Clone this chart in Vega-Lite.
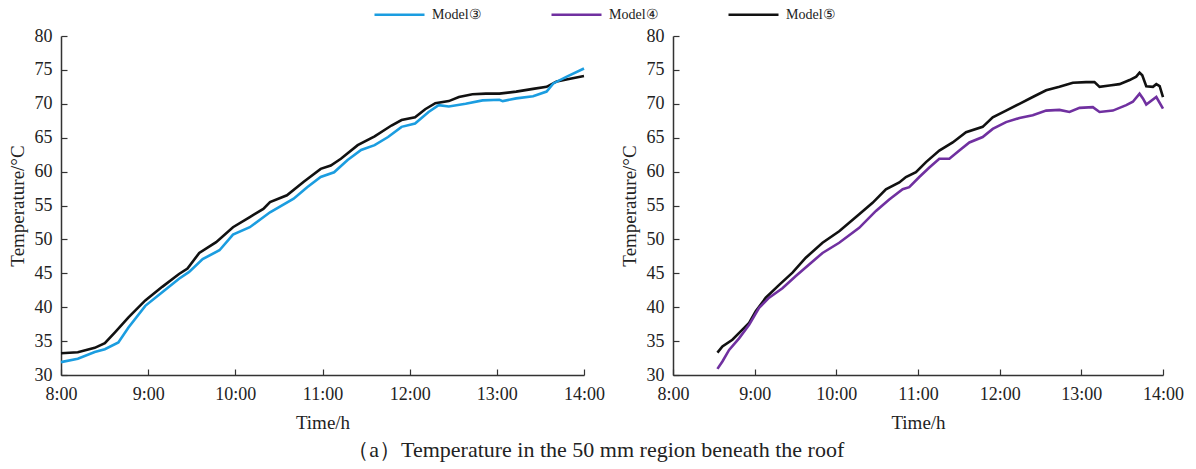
{
  "$schema": "https://vega.github.io/schema/vega-lite/v6.json",
  "background": "white",
  "padding": {"left": 8, "top": -12, "right": 5, "bottom": 5},
  "config": {
    "font": "Liberation Serif",
    "view": {"stroke": null},
    "axis": {"grid": false, "domainColor": "#333", "domainWidth": 1.5, "tickColor": "#333", "tickWidth": 1.2, "tickSize": -6, "labelFontSize": 18, "labelColor": "#222", "titleFontSize": 19, "titleFontWeight": "normal", "titleColor": "#222", "labelFont": "Liberation Serif", "titleFont": "Liberation Serif", "labelFlush": false},
    "axisX": {"labelPadding": 16, "titlePadding": 10},
    "axisY": {"labelPadding": 15, "titlePadding": 7},
    "legend": {"labelFont": "Liberation Serif", "labelFontSize": 14, "labelColor": "#222"}
  },
  "title": {"text": "（a）Temperature in the 50 mm region beneath the roof", "orient": "bottom", "anchor": "middle", "fontSize": 22, "fontWeight": "normal", "font": "Liberation Serif", "color": "#222", "offset": 8},
  "data": {"values": [
    {"panel":"L","model":"Model⑤","t":8.0,"T":33.2},
    {"panel":"L","model":"Model⑤","t":8.193,"T":33.35},
    {"panel":"L","model":"Model⑤","t":8.387,"T":34.0},
    {"panel":"L","model":"Model⑤","t":8.503,"T":34.7},
    {"panel":"L","model":"Model⑤","t":8.619,"T":36.3},
    {"panel":"L","model":"Model⑤","t":8.774,"T":38.5},
    {"panel":"L","model":"Model⑤","t":8.967,"T":41.0},
    {"panel":"L","model":"Model⑤","t":9.161,"T":43.0},
    {"panel":"L","model":"Model⑤","t":9.354,"T":44.9},
    {"panel":"L","model":"Model⑤","t":9.451,"T":45.7},
    {"panel":"L","model":"Model⑤","t":9.586,"T":48.0},
    {"panel":"L","model":"Model⑤","t":9.780,"T":49.6},
    {"panel":"L","model":"Model⑤","t":9.973,"T":51.8},
    {"panel":"L","model":"Model⑤","t":10.166,"T":53.3},
    {"panel":"L","model":"Model⑤","t":10.321,"T":54.5},
    {"panel":"L","model":"Model⑤","t":10.398,"T":55.5},
    {"panel":"L","model":"Model⑤","t":10.592,"T":56.5},
    {"panel":"L","model":"Model⑤","t":10.785,"T":58.5},
    {"panel":"L","model":"Model⑤","t":10.979,"T":60.4},
    {"panel":"L","model":"Model⑤","t":11.095,"T":60.9},
    {"panel":"L","model":"Model⑤","t":11.211,"T":61.9},
    {"panel":"L","model":"Model⑤","t":11.404,"T":63.9},
    {"panel":"L","model":"Model⑤","t":11.598,"T":65.2},
    {"panel":"L","model":"Model⑤","t":11.791,"T":66.8},
    {"panel":"L","model":"Model⑤","t":11.907,"T":67.6},
    {"panel":"L","model":"Model⑤","t":12.062,"T":68.0},
    {"panel":"L","model":"Model⑤","t":12.178,"T":69.2},
    {"panel":"L","model":"Model⑤","t":12.294,"T":70.1},
    {"panel":"L","model":"Model⑤","t":12.449,"T":70.4},
    {"panel":"L","model":"Model⑤","t":12.565,"T":71.0},
    {"panel":"L","model":"Model⑤","t":12.720,"T":71.4},
    {"panel":"L","model":"Model⑤","t":12.874,"T":71.5},
    {"panel":"L","model":"Model⑤","t":13.029,"T":71.5},
    {"panel":"L","model":"Model⑤","t":13.222,"T":71.8},
    {"panel":"L","model":"Model⑤","t":13.416,"T":72.2},
    {"panel":"L","model":"Model⑤","t":13.571,"T":72.5},
    {"panel":"L","model":"Model⑤","t":13.687,"T":73.3},
    {"panel":"L","model":"Model⑤","t":13.841,"T":73.7},
    {"panel":"L","model":"Model⑤","t":14.0,"T":74.1},
    {"panel":"L","model":"Model③","t":8.0,"T":31.9},
    {"panel":"L","model":"Model③","t":8.193,"T":32.4},
    {"panel":"L","model":"Model③","t":8.387,"T":33.4},
    {"panel":"L","model":"Model③","t":8.503,"T":33.8},
    {"panel":"L","model":"Model③","t":8.658,"T":34.8},
    {"panel":"L","model":"Model③","t":8.774,"T":37.0},
    {"panel":"L","model":"Model③","t":8.967,"T":40.2},
    {"panel":"L","model":"Model③","t":9.161,"T":42.2},
    {"panel":"L","model":"Model③","t":9.354,"T":44.2},
    {"panel":"L","model":"Model③","t":9.470,"T":45.2},
    {"panel":"L","model":"Model③","t":9.625,"T":47.1},
    {"panel":"L","model":"Model③","t":9.818,"T":48.4},
    {"panel":"L","model":"Model③","t":9.973,"T":50.7},
    {"panel":"L","model":"Model③","t":10.166,"T":51.8},
    {"panel":"L","model":"Model③","t":10.398,"T":54.0},
    {"panel":"L","model":"Model③","t":10.669,"T":56.0},
    {"panel":"L","model":"Model③","t":10.824,"T":57.7},
    {"panel":"L","model":"Model③","t":10.979,"T":59.2},
    {"panel":"L","model":"Model③","t":11.133,"T":59.9},
    {"panel":"L","model":"Model③","t":11.288,"T":61.7},
    {"panel":"L","model":"Model③","t":11.443,"T":63.2},
    {"panel":"L","model":"Model③","t":11.598,"T":63.9},
    {"panel":"L","model":"Model③","t":11.752,"T":65.1},
    {"panel":"L","model":"Model③","t":11.907,"T":66.6},
    {"panel":"L","model":"Model③","t":12.062,"T":67.1},
    {"panel":"L","model":"Model③","t":12.217,"T":68.8},
    {"panel":"L","model":"Model③","t":12.333,"T":69.8},
    {"panel":"L","model":"Model③","t":12.449,"T":69.6},
    {"panel":"L","model":"Model③","t":12.642,"T":70.0},
    {"panel":"L","model":"Model③","t":12.836,"T":70.5},
    {"panel":"L","model":"Model③","t":13.029,"T":70.6},
    {"panel":"L","model":"Model③","t":13.068,"T":70.4},
    {"panel":"L","model":"Model③","t":13.222,"T":70.8},
    {"panel":"L","model":"Model③","t":13.416,"T":71.1},
    {"panel":"L","model":"Model③","t":13.571,"T":71.8},
    {"panel":"L","model":"Model③","t":13.648,"T":73.0},
    {"panel":"L","model":"Model③","t":13.803,"T":74.0},
    {"panel":"L","model":"Model③","t":14.0,"T":75.2},
    {"panel":"R","model":"Model⑤","t":8.544,"T":33.3},
    {"panel":"R","model":"Model⑤","t":8.605,"T":34.2},
    {"panel":"R","model":"Model⑤","t":8.727,"T":35.2},
    {"panel":"R","model":"Model⑤","t":8.850,"T":36.7},
    {"panel":"R","model":"Model⑤","t":8.932,"T":37.7},
    {"panel":"R","model":"Model⑤","t":9.013,"T":39.4},
    {"panel":"R","model":"Model⑤","t":9.136,"T":41.4},
    {"panel":"R","model":"Model⑤","t":9.300,"T":43.3},
    {"panel":"R","model":"Model⑤","t":9.463,"T":45.1},
    {"panel":"R","model":"Model⑤","t":9.626,"T":47.3},
    {"panel":"R","model":"Model⑤","t":9.831,"T":49.5},
    {"panel":"R","model":"Model⑤","t":10.035,"T":51.2},
    {"panel":"R","model":"Model⑤","t":10.280,"T":53.7},
    {"panel":"R","model":"Model⑤","t":10.444,"T":55.4},
    {"panel":"R","model":"Model⑤","t":10.607,"T":57.4},
    {"panel":"R","model":"Model⑤","t":10.771,"T":58.4},
    {"panel":"R","model":"Model⑤","t":10.852,"T":59.2},
    {"panel":"R","model":"Model⑤","t":10.975,"T":59.9},
    {"panel":"R","model":"Model⑤","t":11.098,"T":61.4},
    {"panel":"R","model":"Model⑤","t":11.261,"T":63.1},
    {"panel":"R","model":"Model⑤","t":11.425,"T":64.3},
    {"panel":"R","model":"Model⑤","t":11.588,"T":65.8},
    {"panel":"R","model":"Model⑤","t":11.792,"T":66.6},
    {"panel":"R","model":"Model⑤","t":11.915,"T":68.0},
    {"panel":"R","model":"Model⑤","t":12.078,"T":69.0},
    {"panel":"R","model":"Model⑤","t":12.242,"T":70.0},
    {"panel":"R","model":"Model⑤","t":12.405,"T":71.0},
    {"panel":"R","model":"Model⑤","t":12.569,"T":72.0},
    {"panel":"R","model":"Model⑤","t":12.732,"T":72.5},
    {"panel":"R","model":"Model⑤","t":12.896,"T":73.1},
    {"panel":"R","model":"Model⑤","t":13.059,"T":73.2},
    {"panel":"R","model":"Model⑤","t":13.161,"T":73.2},
    {"panel":"R","model":"Model⑤","t":13.223,"T":72.5},
    {"panel":"R","model":"Model⑤","t":13.345,"T":72.7},
    {"panel":"R","model":"Model⑤","t":13.468,"T":72.9},
    {"panel":"R","model":"Model⑤","t":13.591,"T":73.5},
    {"panel":"R","model":"Model⑤","t":13.672,"T":74.0},
    {"panel":"R","model":"Model⑤","t":13.713,"T":74.6},
    {"panel":"R","model":"Model⑤","t":13.746,"T":74.2},
    {"panel":"R","model":"Model⑤","t":13.795,"T":72.6},
    {"panel":"R","model":"Model⑤","t":13.877,"T":72.5},
    {"panel":"R","model":"Model⑤","t":13.918,"T":72.9},
    {"panel":"R","model":"Model⑤","t":13.959,"T":72.6},
    {"panel":"R","model":"Model⑤","t":14.0,"T":71.0},
    {"panel":"R","model":"Model④","t":8.544,"T":30.9},
    {"panel":"R","model":"Model④","t":8.605,"T":32.0},
    {"panel":"R","model":"Model④","t":8.687,"T":33.7},
    {"panel":"R","model":"Model④","t":8.809,"T":35.4},
    {"panel":"R","model":"Model④","t":8.932,"T":37.4},
    {"panel":"R","model":"Model④","t":9.054,"T":39.9},
    {"panel":"R","model":"Model④","t":9.177,"T":41.4},
    {"panel":"R","model":"Model④","t":9.340,"T":42.8},
    {"panel":"R","model":"Model④","t":9.504,"T":44.6},
    {"panel":"R","model":"Model④","t":9.667,"T":46.3},
    {"panel":"R","model":"Model④","t":9.831,"T":48.0},
    {"panel":"R","model":"Model④","t":10.035,"T":49.5},
    {"panel":"R","model":"Model④","t":10.280,"T":51.7},
    {"panel":"R","model":"Model④","t":10.485,"T":54.2},
    {"panel":"R","model":"Model④","t":10.648,"T":55.9},
    {"panel":"R","model":"Model④","t":10.812,"T":57.4},
    {"panel":"R","model":"Model④","t":10.893,"T":57.7},
    {"panel":"R","model":"Model④","t":11.016,"T":59.2},
    {"panel":"R","model":"Model④","t":11.139,"T":60.6},
    {"panel":"R","model":"Model④","t":11.261,"T":61.9},
    {"panel":"R","model":"Model④","t":11.384,"T":61.9},
    {"panel":"R","model":"Model④","t":11.506,"T":63.1},
    {"panel":"R","model":"Model④","t":11.629,"T":64.3},
    {"panel":"R","model":"Model④","t":11.792,"T":65.1},
    {"panel":"R","model":"Model④","t":11.915,"T":66.3},
    {"panel":"R","model":"Model④","t":12.078,"T":67.3},
    {"panel":"R","model":"Model④","t":12.242,"T":67.9},
    {"panel":"R","model":"Model④","t":12.405,"T":68.3},
    {"panel":"R","model":"Model④","t":12.569,"T":69.0},
    {"panel":"R","model":"Model④","t":12.732,"T":69.1},
    {"panel":"R","model":"Model④","t":12.855,"T":68.8},
    {"panel":"R","model":"Model④","t":12.978,"T":69.4},
    {"panel":"R","model":"Model④","t":13.141,"T":69.5},
    {"panel":"R","model":"Model④","t":13.223,"T":68.8},
    {"panel":"R","model":"Model④","t":13.386,"T":69.0},
    {"panel":"R","model":"Model④","t":13.550,"T":69.8},
    {"panel":"R","model":"Model④","t":13.631,"T":70.3},
    {"panel":"R","model":"Model④","t":13.713,"T":71.5},
    {"panel":"R","model":"Model④","t":13.754,"T":70.8},
    {"panel":"R","model":"Model④","t":13.795,"T":69.9},
    {"panel":"R","model":"Model④","t":13.918,"T":71.0},
    {"panel":"R","model":"Model④","t":14.0,"T":69.3}
  ]},
  "resolve": {"scale": {"color": "shared"}, "legend": {"color": "shared"}},
  "spacing": 15,
  "hconcat": [
    {
      "width": 523, "height": 339,
      "transform": [{"filter": "datum.panel === 'L'"}],
      "mark": {"type": "line", "strokeWidth": 2.6},
      "encoding": {
        "x": {"field": "t", "type": "quantitative", "scale": {"domain": [8, 14], "nice": false, "zero": false}, "axis": {"values": [8,9,10,11,12,13,14], "labelExpr": "datum.value + ':00'", "title": "Time/h"}},
        "y": {"field": "T", "type": "quantitative", "scale": {"domain": [30, 80], "nice": false, "zero": false}, "axis": {"values": [30,35,40,45,50,55,60,65,70,75,80], "title": "Temperature/°C"}},
        "color": {"field": "model", "type": "nominal", "scale": {"domain": ["Model③", "Model④", "Model⑤"], "range": ["#1b9de0", "#7030a0", "#111111"]},
          "legend": {"title": null, "orient": "none", "direction": "horizontal", "legendX": 312, "legendY": -48, "symbolType": "stroke", "symbolSize": 2500, "symbolStrokeWidth": 2.6, "labelOffset": 6, "columnPadding": 64}},
        "detail": {"field": "model"}
      }
    },
    {
      "width": 490, "height": 339,
      "transform": [{"filter": "datum.panel === 'R'"}],
      "mark": {"type": "line", "strokeWidth": 2.6},
      "encoding": {
        "x": {"field": "t", "type": "quantitative", "scale": {"domain": [8, 14], "nice": false, "zero": false}, "axis": {"values": [8,9,10,11,12,13,14], "labelExpr": "datum.value + ':00'", "title": "Time/h"}},
        "y": {"field": "T", "type": "quantitative", "scale": {"domain": [30, 80], "nice": false, "zero": false}, "axis": {"values": [30,35,40,45,50,55,60,65,70,75,80], "title": "Temperature/°C"}},
        "color": {"field": "model", "type": "nominal"}
      }
    }
  ]
}
